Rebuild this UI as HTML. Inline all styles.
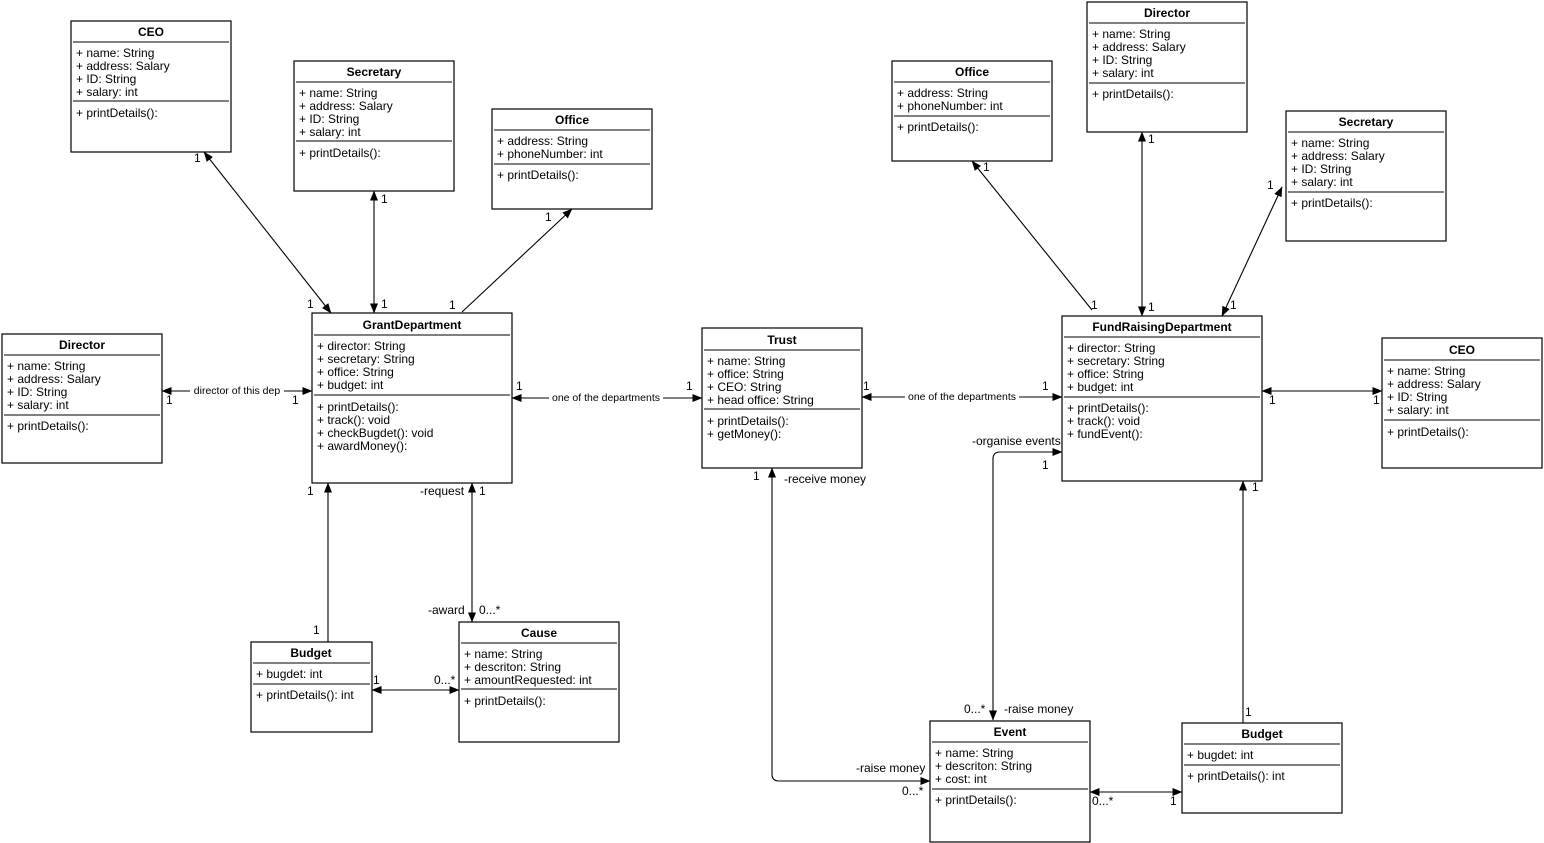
<!DOCTYPE html>
<html><head><meta charset="utf-8"><style>
html,body{margin:0;padding:0;background:#fff;}
svg{display:block;font-family:"Liberation Sans",Arial,sans-serif;}
.b{fill:#fff;stroke:#000;stroke-width:1.2}
.s{stroke:#000;stroke-width:0.9}
.h{font-weight:bold;font-size:12px;text-anchor:middle}
.t{font-size:12px}
.l{font-size:10.5px}
.c{stroke:#000;stroke-width:1.1;fill:none}
</style></head><body>
<svg width="1544" height="843" viewBox="0 0 1544 843" xmlns="http://www.w3.org/2000/svg">
<defs>
<marker id="a" markerWidth="10" markerHeight="8" refX="9.5" refY="4" orient="auto-start-reverse" markerUnits="userSpaceOnUse"><path d="M0,0 L10,4 L0,8 z" fill="#000"/></marker>
</defs>

<!-- connectors -->
<line class="c" x1="204" y1="152" x2="331" y2="313" marker-start="url(#a)" marker-end="url(#a)"/>
<line class="c" x1="374" y1="191" x2="374" y2="313" marker-start="url(#a)" marker-end="url(#a)"/>
<line class="c" x1="462" y1="312" x2="572" y2="209" marker-end="url(#a)"/>
<line class="c" x1="162" y1="391" x2="312" y2="391" marker-start="url(#a)" marker-end="url(#a)"/>
<line class="c" x1="512" y1="398" x2="702" y2="398" marker-start="url(#a)" marker-end="url(#a)"/>
<line class="c" x1="862" y1="397" x2="1062" y2="397" marker-start="url(#a)" marker-end="url(#a)"/>
<line class="c" x1="1262" y1="391" x2="1382" y2="391" marker-start="url(#a)" marker-end="url(#a)"/>
<line class="c" x1="1092" y1="310" x2="972" y2="161" marker-end="url(#a)"/>
<line class="c" x1="1142" y1="132" x2="1142" y2="316" marker-start="url(#a)" marker-end="url(#a)"/>
<line class="c" x1="1282" y1="187" x2="1222" y2="316" marker-start="url(#a)" marker-end="url(#a)"/>
<line class="c" x1="472" y1="483" x2="472" y2="622" marker-start="url(#a)" marker-end="url(#a)"/>
<line class="c" x1="328" y1="642" x2="328" y2="483" marker-end="url(#a)"/>
<line class="c" x1="372" y1="690" x2="459" y2="690" marker-start="url(#a)" marker-end="url(#a)"/>
<path class="c" d="M772,468 L772,774 Q772,781 779,781 L930,781" marker-start="url(#a)" marker-end="url(#a)"/>
<path class="c" d="M993,720 L993,459 Q993,452 1000,452 L1062,452" marker-start="url(#a)" marker-end="url(#a)"/>
<line class="c" x1="1090" y1="792" x2="1182" y2="792" marker-start="url(#a)" marker-end="url(#a)"/>
<line class="c" x1="1243" y1="723" x2="1243" y2="481" marker-end="url(#a)"/>

<!-- connector labels -->
<rect x="190" y="384" width="94" height="12" fill="#fff"/>
<text class="l" x="237" y="394" text-anchor="middle">director of this dep</text>
<rect x="549" y="391" width="114" height="12" fill="#fff"/>
<text class="l" x="606" y="401" text-anchor="middle">one of the departments</text>
<rect x="905" y="390" width="114" height="12" fill="#fff"/>
<text class="l" x="962" y="400" text-anchor="middle">one of the departments</text>
<g class="t">
<text x="194" y="162">1</text><text x="307" y="308">1</text>
<text x="381" y="203">1</text><text x="381" y="308">1</text>
<text x="449" y="309">1</text><text x="545" y="221">1</text>
<text x="166" y="404">1</text><text x="292" y="404">1</text>
<text x="516" y="390">1</text><text x="686" y="390">1</text>
<text x="863" y="390">1</text><text x="1042" y="390">1</text>
<text x="1269" y="404">1</text><text x="1373" y="404">1</text>
<text x="1091" y="309">1</text><text x="983" y="171">1</text>
<text x="1148" y="143">1</text><text x="1148" y="311">1</text>
<text x="1267" y="189">1</text><text x="1230" y="309">1</text>
<text x="420" y="495">-request</text><text x="479" y="495">1</text>
<text x="428" y="614">-award</text><text x="479" y="614">0...*</text>
<text x="307" y="495">1</text><text x="313" y="634">1</text>
<text x="373" y="684">1</text><text x="434" y="684">0...*</text>
<text x="753" y="480">1</text><text x="784" y="483">-receive money</text>
<text x="856" y="772">-raise money</text><text x="902" y="795">0...*</text>
<text x="972" y="445">-organise events</text><text x="1042" y="469">1</text>
<text x="964" y="713">0...*</text><text x="1004" y="713">-raise money</text>
<text x="1092" y="805">0...*</text><text x="1170" y="805">1</text>
<text x="1252" y="491">1</text><text x="1245" y="716">1</text>
</g>

<!-- CEO left -->
<rect class="b" x="71" y="21" width="160" height="131"/>
<text class="h" x="151" y="36">CEO</text>
<line class="s" x1="73" y1="42" x2="229" y2="42"/>
<text class="t" x="76" y="57">+ name: String</text><text class="t" x="76" y="70">+ address: Salary</text><text class="t" x="76" y="83">+ ID: String</text><text class="t" x="76" y="96">+ salary: int</text>
<line class="s" x1="73" y1="101" x2="229" y2="101"/>
<text class="t" x="76" y="117">+ printDetails():</text>

<!-- Secretary left -->
<rect class="b" x="294" y="61" width="160" height="130"/>
<text class="h" x="374" y="76">Secretary</text>
<line class="s" x1="296" y1="82" x2="452" y2="82"/>
<text class="t" x="299" y="97">+ name: String</text><text class="t" x="299" y="110">+ address: Salary</text><text class="t" x="299" y="123">+ ID: String</text><text class="t" x="299" y="136">+ salary: int</text>
<line class="s" x1="296" y1="141" x2="452" y2="141"/>
<text class="t" x="299" y="157">+ printDetails():</text>

<!-- Office left -->
<rect class="b" x="492" y="109" width="160" height="100"/>
<text class="h" x="572" y="124">Office</text>
<line class="s" x1="494" y1="130" x2="650" y2="130"/>
<text class="t" x="497" y="145">+ address: String</text><text class="t" x="497" y="158">+ phoneNumber: int</text>
<line class="s" x1="494" y1="164" x2="650" y2="164"/>
<text class="t" x="497" y="179">+ printDetails():</text>

<!-- Director left -->
<rect class="b" x="2" y="334" width="160" height="129"/>
<text class="h" x="82" y="349">Director</text>
<line class="s" x1="4" y1="355" x2="160" y2="355"/>
<text class="t" x="7" y="370">+ name: String</text><text class="t" x="7" y="383">+ address: Salary</text><text class="t" x="7" y="396">+ ID: String</text><text class="t" x="7" y="409">+ salary: int</text>
<line class="s" x1="4" y1="415" x2="160" y2="415"/>
<text class="t" x="7" y="430">+ printDetails():</text>

<!-- GrantDepartment -->
<rect class="b" x="312" y="313" width="200" height="170"/>
<text class="h" x="412" y="329">GrantDepartment</text>
<line class="s" x1="314" y1="335" x2="510" y2="335"/>
<text class="t" x="317" y="350">+ director: String</text><text class="t" x="317" y="363">+ secretary: String</text><text class="t" x="317" y="376">+ office: String</text><text class="t" x="317" y="389">+ budget: int</text>
<line class="s" x1="314" y1="395" x2="510" y2="395"/>
<text class="t" x="317" y="411">+ printDetails():</text><text class="t" x="317" y="424">+ track(): void</text><text class="t" x="317" y="437">+ checkBugdet(): void</text><text class="t" x="317" y="450">+ awardMoney():</text>

<!-- Trust -->
<rect class="b" x="702" y="328" width="160" height="140"/>
<text class="h" x="782" y="344">Trust</text>
<line class="s" x1="704" y1="350" x2="860" y2="350"/>
<text class="t" x="707" y="365">+ name: String</text><text class="t" x="707" y="378">+ office: String</text><text class="t" x="707" y="391">+ CEO: String</text><text class="t" x="707" y="404">+ head office: String</text>
<line class="s" x1="704" y1="409" x2="860" y2="409"/>
<text class="t" x="707" y="425">+ printDetails():</text><text class="t" x="707" y="438">+ getMoney():</text>

<!-- Cause -->
<rect class="b" x="459" y="622" width="160" height="120"/>
<text class="h" x="539" y="637">Cause</text>
<line class="s" x1="461" y1="643" x2="617" y2="643"/>
<text class="t" x="464" y="658">+ name: String</text><text class="t" x="464" y="671">+ descriton: String</text><text class="t" x="464" y="684">+ amountRequested: int</text>
<line class="s" x1="461" y1="689" x2="617" y2="689"/>
<text class="t" x="464" y="705">+ printDetails():</text>

<!-- Budget left -->
<rect class="b" x="251" y="642" width="121" height="90"/>
<text class="h" x="311" y="657">Budget</text>
<line class="s" x1="253" y1="663" x2="370" y2="663"/>
<text class="t" x="256" y="678">+ bugdet: int</text>
<line class="s" x1="253" y1="684" x2="370" y2="684"/>
<text class="t" x="256" y="699">+ printDetails(): int</text>

<!-- Office right -->
<rect class="b" x="892" y="61" width="160" height="100"/>
<text class="h" x="972" y="76">Office</text>
<line class="s" x1="894" y1="82" x2="1050" y2="82"/>
<text class="t" x="897" y="97">+ address: String</text><text class="t" x="897" y="110">+ phoneNumber: int</text>
<line class="s" x1="894" y1="116" x2="1050" y2="116"/>
<text class="t" x="897" y="131">+ printDetails():</text>

<!-- Director right -->
<rect class="b" x="1087" y="2" width="160" height="130"/>
<text class="h" x="1167" y="17">Director</text>
<line class="s" x1="1089" y1="23" x2="1245" y2="23"/>
<text class="t" x="1092" y="38">+ name: String</text><text class="t" x="1092" y="51">+ address: Salary</text><text class="t" x="1092" y="64">+ ID: String</text><text class="t" x="1092" y="77">+ salary: int</text>
<line class="s" x1="1089" y1="83" x2="1245" y2="83"/>
<text class="t" x="1092" y="98">+ printDetails():</text>

<!-- Secretary right -->
<rect class="b" x="1286" y="111" width="160" height="130"/>
<text class="h" x="1366" y="126">Secretary</text>
<line class="s" x1="1288" y1="132" x2="1444" y2="132"/>
<text class="t" x="1291" y="147">+ name: String</text><text class="t" x="1291" y="160">+ address: Salary</text><text class="t" x="1291" y="173">+ ID: String</text><text class="t" x="1291" y="186">+ salary: int</text>
<line class="s" x1="1288" y1="192" x2="1444" y2="192"/>
<text class="t" x="1291" y="207">+ printDetails():</text>

<!-- FundRaisingDepartment -->
<rect class="b" x="1062" y="316" width="200" height="165"/>
<text class="h" x="1162" y="331">FundRaisingDepartment</text>
<line class="s" x1="1064" y1="337" x2="1260" y2="337"/>
<text class="t" x="1067" y="352">+ director: String</text><text class="t" x="1067" y="365">+ secretary: String</text><text class="t" x="1067" y="378">+ office: String</text><text class="t" x="1067" y="391">+ budget: int</text>
<line class="s" x1="1064" y1="397" x2="1260" y2="397"/>
<text class="t" x="1067" y="412">+ printDetails():</text><text class="t" x="1067" y="425">+ track(): void</text><text class="t" x="1067" y="438">+ fundEvent():</text>

<!-- CEO right -->
<rect class="b" x="1382" y="338" width="160" height="130"/>
<text class="h" x="1462" y="354">CEO</text>
<line class="s" x1="1384" y1="360" x2="1540" y2="360"/>
<text class="t" x="1387" y="375">+ name: String</text><text class="t" x="1387" y="388">+ address: Salary</text><text class="t" x="1387" y="401">+ ID: String</text><text class="t" x="1387" y="414">+ salary: int</text>
<line class="s" x1="1384" y1="420" x2="1540" y2="420"/>
<text class="t" x="1387" y="436">+ printDetails():</text>

<!-- Event -->
<rect class="b" x="930" y="721" width="160" height="121"/>
<text class="h" x="1010" y="736">Event</text>
<line class="s" x1="932" y1="742" x2="1088" y2="742"/>
<text class="t" x="935" y="757">+ name: String</text><text class="t" x="935" y="770">+ descriton: String</text><text class="t" x="935" y="783">+ cost: int</text>
<line class="s" x1="932" y1="789" x2="1088" y2="789"/>
<text class="t" x="935" y="804">+ printDetails():</text>

<!-- Budget right -->
<rect class="b" x="1182" y="723" width="160" height="90"/>
<text class="h" x="1262" y="738">Budget</text>
<line class="s" x1="1184" y1="744" x2="1340" y2="744"/>
<text class="t" x="1187" y="759">+ bugdet: int</text>
<line class="s" x1="1184" y1="765" x2="1340" y2="765"/>
<text class="t" x="1187" y="780">+ printDetails(): int</text>
</svg>
</body></html>
